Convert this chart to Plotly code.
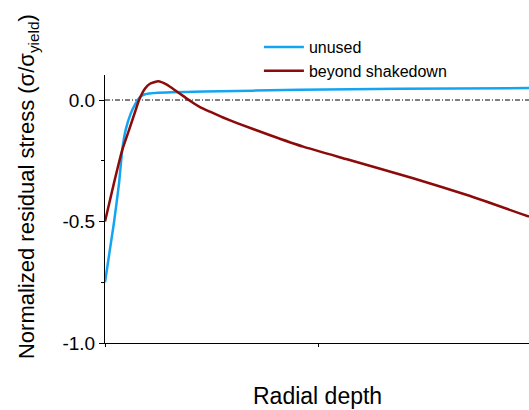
import plotly.graph_objects as go

# Radial depth (arbitrary units, 0..~2)
x_unused = [0.0, 0.042, 0.066, 0.081, 0.097, 0.121, 0.144, 0.164, 0.188, 0.249, 0.469, 0.915, 1.385, 1.99]
y_unused = [-0.75, -0.505, -0.342, -0.205, -0.123, -0.055, -0.014, 0.012, 0.024, 0.030, 0.035, 0.042, 0.046, 0.049]

x_beyond = [0.0, 0.042, 0.081, 0.113, 0.144, 0.160, 0.188, 0.211, 0.250, 0.290, 0.329, 0.368, 0.407, 0.446, 0.493, 0.554, 0.62, 0.775, 0.93, 1.136, 1.446, 1.714, 1.99]
y_beyond = [-0.5, -0.342, -0.205, -0.123, -0.041, 0.0, 0.047, 0.067, 0.077, 0.063, 0.040, 0.016, -0.008, -0.029, -0.048, -0.072, -0.095, -0.145, -0.192, -0.244, -0.322, -0.395, -0.48]

y_tickvals = [-1.0, -0.5, 0.0]
y_ticktext = ["-1.0", "-0.5", "0.0"]

fig = go.Figure()
fig.add_trace(go.Scatter(x=x_unused, y=y_unused, mode="lines", name="unused",
                         line=dict(color="#14A5F2", width=2.5, shape="spline", smoothing=0.4)))
fig.add_trace(go.Scatter(x=x_beyond, y=y_beyond, mode="lines", name="beyond shakedown",
                         line=dict(color="#8B0A0A", width=2.5, shape="spline", smoothing=0.4)))

fig.add_shape(type="line", xref="paper", yref="y", x0=0, x1=1, y0=0, y1=0,
              line=dict(color="black", width=1, dash="5px,2px,1px,2px"), layer="below")

fig.add_annotation(text="Normalized residual stress (σ/σ<sub>yield</sub>)",
                   xref="paper", yref="paper", x=-0.1816, y=0.582,
                   xanchor="center", yanchor="middle", textangle=-90,
                   showarrow=False, font=dict(size=22))
fig.add_annotation(text="Radial depth",
                   xref="paper", yref="paper", x=0.502, y=-0.198,
                   xanchor="center", yanchor="middle",
                   showarrow=False, font=dict(size=23))

fig.update_layout(
    width=529, height=410,
    margin=dict(l=105, r=0, t=75, b=67),
    paper_bgcolor="white", plot_bgcolor="white",
    font=dict(family="Liberation Sans, Arial, sans-serif", color="black"),
    showlegend=True,
    legend=dict(x=0.363, y=1.168, xanchor="left", yanchor="top",
                font=dict(size=16), bgcolor="rgba(0,0,0,0)",
                tracegroupgap=0, itemwidth=40),
    xaxis=dict(range=[0, 1.99], showgrid=False, zeroline=False,
               showline=True, linecolor="black", linewidth=1,
               tickvals=[0, 1], ticks="outside", ticklen=3, tickcolor="black",
               showticklabels=False),
    yaxis=dict(range=[-1.0, 0.103], showgrid=False, zeroline=False,
               showline=True, linecolor="black", linewidth=1,
               tickvals=y_tickvals, ticktext=y_ticktext,
               ticks="outside", ticklen=5, tickcolor="black",
               tickfont=dict(size=19),
               minor=dict(tickvals=[-0.75, -0.25], ticks="outside", ticklen=3, tickcolor="black")),
)

fig.write_html("out.html")
